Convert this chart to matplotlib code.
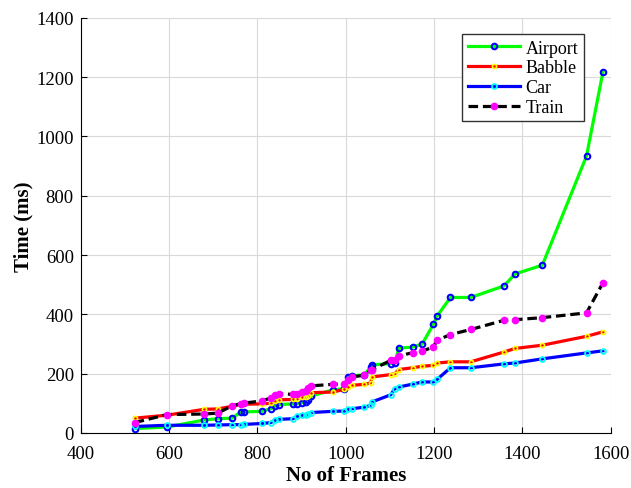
import matplotlib.pyplot as plt

# Frame counts of the test files (shared by every noise type)
frames = [522, 595, 680, 710, 742, 762, 770, 810, 830, 840, 848, 880, 890, 900,
          910, 915, 922, 970, 997, 1006, 1015, 1042, 1056, 1060, 1102, 1111, 1120,
          1152, 1173, 1198, 1207, 1237, 1283, 1358, 1383, 1445, 1545, 1582]

# Processing time (ms) per noise type
airport = [15, 20, 44, 48, 50, 70, 71, 73, 82, 90, 96, 98, 99, 102,
           105, 110, 125, 145, 150, 190, 193, 196, 222, 230, 234, 236, 286,
           290, 300, 366, 395, 457, 457, 496, 536, 566, 934, 1216]
babble = [50, 60, 80, 81, 90, 96, 97, 98, 100, 108, 112, 113, 116, 120,
          122, 126, 136, 138, 147, 155, 161, 164, 169, 189, 197, 200, 214,
          220, 225, 228, 236, 240, 240, 273, 285, 296, 326, 341]
car = [22, 26, 26, 27, 28, 28, 29, 32, 35, 43, 46, 48, 56, 60,
       60, 65, 69, 73, 74, 80, 82, 87, 93, 105, 129, 150, 155,
       165, 172, 172, 181, 220, 220, 233, 236, 250, 270, 277]
train = [35, 62, 64, 67, 91, 99, 101, 108, 118, 127, 133, 130, 133, 138,
         141, 152, 159, 164, 166, 178, 189, 195, 211, 214, 245, 247, 260,
         271, 276, 290, 313, 332, 349, 380, 382, 389, 405, 506]

plt.rcParams['font.family'] = 'Liberation Serif'

fig = plt.figure(figsize=(6.31, 4.89), dpi=100)
ax = fig.add_axes([0.128, 0.1125, 0.84, 0.849])

ax.plot(frames, airport, color=(0, 1, 0), linewidth=2.3, marker='o', markersize=4,
        markeredgecolor='blue', markerfacecolor='none', markeredgewidth=1.5, label='Airport')
ax.plot(frames, babble, color='red', linewidth=2.3, marker='o', markersize=3,
        markeredgecolor='yellow', markerfacecolor='none', markeredgewidth=1.2, label='Babble')
ax.plot(frames, car, color='blue', linewidth=2.3, marker='o', markersize=3.5,
        markeredgecolor='cyan', markerfacecolor='none', markeredgewidth=1.3, label='Car')
ax.plot(frames, train, color='black', linewidth=2.3, linestyle='--', dashes=(3, 1.5),
        marker='o', markersize=4.5, markeredgecolor='magenta', markerfacecolor='magenta',
        label='Train')

ax.set_xlim(400, 1600)
ax.set_ylim(0, 1400)
ax.set_xticks(range(400, 1601, 200))
ax.set_yticks(range(0, 1401, 200))
ax.tick_params(direction='in', labelsize=13.5, length=4)
ax.tick_params(axis='x', pad=9)
ax.tick_params(axis='y', pad=5)
ax.spines['top'].set_visible(False)
ax.spines['right'].set_visible(False)
ax.grid(True, color='#d9d9d9', linewidth=0.8)
ax.set_axisbelow(True)

ax.set_xlabel('No of Frames', fontsize=15, fontweight='bold', labelpad=2)
ax.set_ylabel('Time (ms)', fontsize=15, fontweight='bold', labelpad=2)

leg = ax.legend(loc='upper right', bbox_to_anchor=(0.966, 0.982), fontsize=13,
                fancybox=False, framealpha=1, edgecolor='#333333',
                handlelength=2.9, borderpad=0.3, labelspacing=0.15, handletextpad=0.3)
leg.get_frame().set_linewidth(1)

fig.savefig('out.png', dpi=100)
